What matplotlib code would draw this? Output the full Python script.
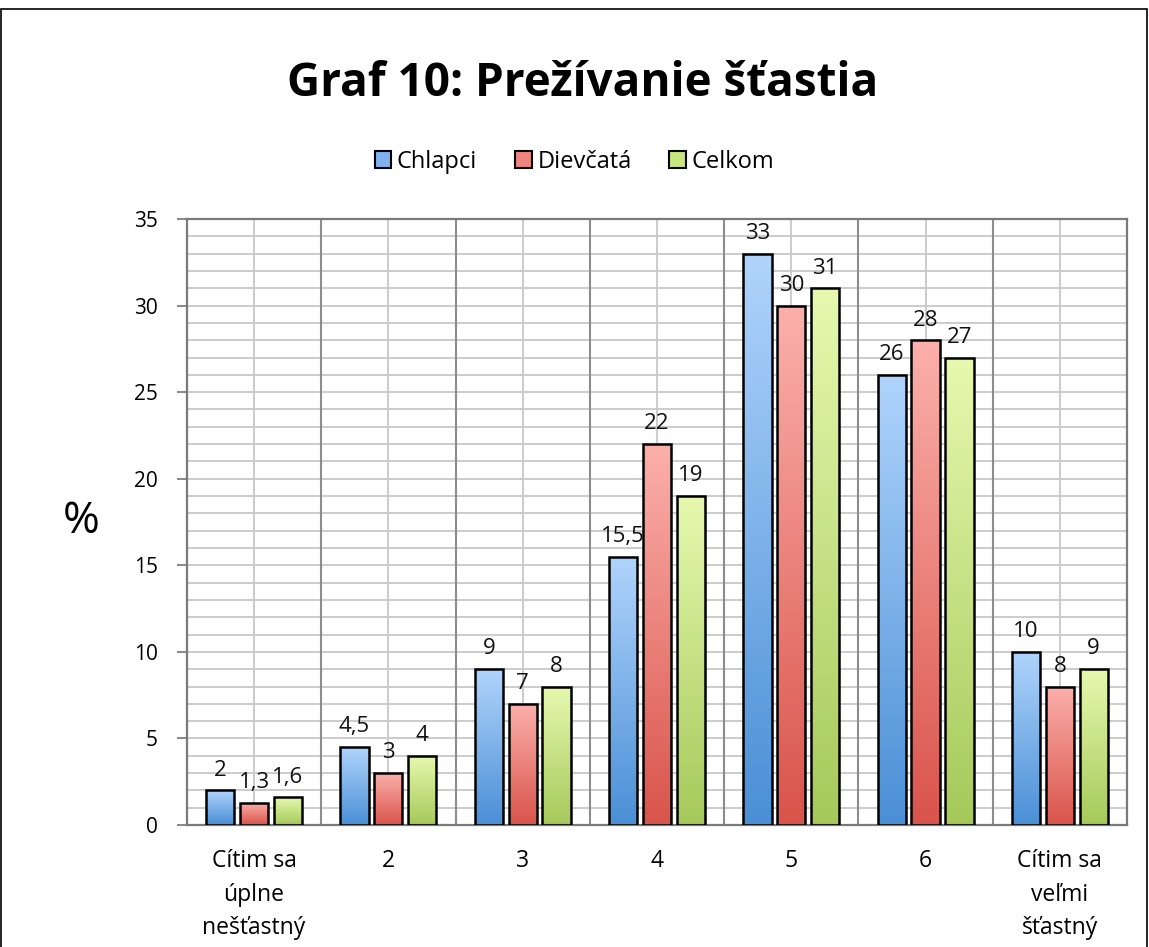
import matplotlib
matplotlib.use("Agg")
import matplotlib.pyplot as plt
import numpy as np
from matplotlib.colors import LinearSegmentedColormap
from matplotlib.patches import Rectangle, Patch

plt.rcParams['font.family'] = ['Open Sans', 'DejaVu Sans']

title = "Graf 10: Prežívanie šťastia"
categories = ["Cítim sa\núplne\nnešťastný", "2", "3", "4", "5", "6", "Cítim sa\nveľmi\nšťastný"]
series_names = ["Chlapci", "Dievčatá", "Celkom"]
chlapci = [2, 4.5, 9, 15.5, 33, 26, 10]
dievcata = [1.3, 3, 7, 22, 30, 28, 8]
celkom = [1.6, 4, 8, 19, 31, 27, 9]
values = [chlapci, dievcata, celkom]

top_colors = ["#b0d4fc", "#fcb0ab", "#e6f9af"]
bot_colors = ["#4a8fd6", "#d9544b", "#a6c95a"]
legend_colors = ["#7fb2ee", "#ef8580", "#c8e680"]

fig = plt.figure(figsize=(11.49, 9.47), dpi=100)
ax = fig.add_axes([0.1627, 0.1288, 0.9809 - 0.1627, 0.7687 - 0.1288])

n = len(categories)
ax.set_xlim(-0.5, n - 0.5)
ax.set_ylim(0, 35)

# grid
for yv in range(1, 36):
    ax.axhline(yv, color="#c8c8c8", lw=1.3, zorder=0)
for i in range(n):
    ax.axvline(i, color="#c8c8c8", lw=1.3, zorder=0)
for i in range(n - 1):
    ax.axvline(i + 0.5, color="#8c8c8c", lw=1.5, zorder=0.5)

bw = 0.21
step = 0.252
for s in range(3):
    cmap = LinearSegmentedColormap.from_list("g%d" % s, [bot_colors[s], top_colors[s]])
    grad = np.linspace(0, 1, 256).reshape(-1, 1)
    for i in range(n):
        v = values[s][i]
        x0 = i + (s - 1) * step - bw / 2
        rect = Rectangle((x0, 0), bw, v, facecolor="none", edgecolor="black", lw=1.8, zorder=3)
        ax.add_patch(rect)
        im = ax.imshow(grad, extent=(x0, x0 + bw, 0, v), origin="lower", cmap=cmap,
                       aspect="auto", zorder=2)
        im.set_clip_path(rect)
        lab = ("%g" % v).replace(".", ",")
        ax.annotate(lab, (x0 + bw / 2, v), xytext=(0, 7), textcoords="offset points",
                    ha="center", va="bottom", fontsize=16, color="#111111", zorder=4)

ax.set_xlim(-0.5, n - 0.5)
ax.set_ylim(0, 35)
ax.set_yticks(range(0, 36, 5))
ax.set_yticklabels([str(t) for t in range(0, 36, 5)], fontsize=15)
ax.set_xticks(range(n))
ax.set_xticklabels(categories, fontsize=16.5, linespacing=1.55)
ax.tick_params(axis="x", length=0, pad=17)
ax.tick_params(axis="y", length=7, width=1.5, color="#8c8c8c", pad=14)
for sp in ax.spines.values():
    sp.set_color("#7a7a7a")
    sp.set_linewidth(1.6)

ax.set_ylabel("%", fontsize=32, rotation=0, labelpad=38, va="center")

fig.text(0.507, 0.912, title, ha="center", va="center", fontsize=33, fontweight="bold")

handles = [Patch(facecolor=legend_colors[s], edgecolor="black", lw=1.5) for s in range(3)]
fig.legend(handles, series_names, loc="center", bbox_to_anchor=(0.5, 0.829), ncol=3,
           frameon=False, fontsize=17, handlelength=0.7, handleheight=0.7,
           handletextpad=0.25, columnspacing=1.6)

fig.patches.append(Rectangle((0.001, -0.01), 0.997, 1.0, transform=fig.transFigure,
                             fill=False, edgecolor="black", lw=1.2))

fig.savefig("out.png", dpi=100)
